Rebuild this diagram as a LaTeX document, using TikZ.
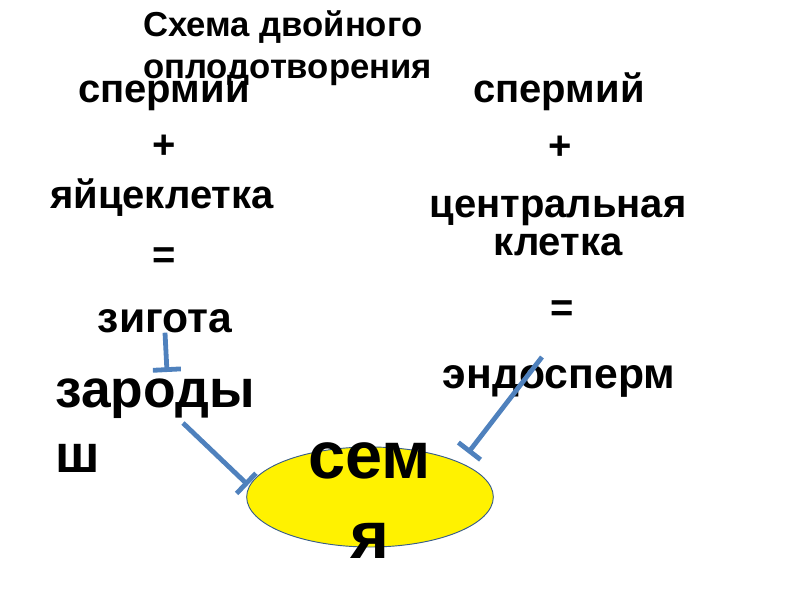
\documentclass[tikz,border=0pt]{standalone}
\usepackage{fontspec}
\setmainfont{Liberation Sans}
\usepackage{xcolor}
\usetikzlibrary{positioning,arrows.meta,shapes.geometric}

\definecolor{lineblue}{HTML}{4F81BD}
\definecolor{lineedge}{HTML}{385D8A}

\begin{document}
\begin{tikzpicture}[x=0.75pt, y=-0.75pt,
    ttl/.style={font=\fontsize{26}{31}\selectfont\bfseries, align=left,
                inner sep=0pt, anchor=base west},
    word/.style={font=\fontsize{30}{28}\selectfont\bfseries, align=center,
                 inner sep=0pt, anchor=base},
    sym/.style={font=\fontsize{30}{36}\selectfont\bfseries, inner sep=0pt},
    big/.style={font=\fontsize{40}{49}\selectfont\bfseries, align=left,
                inner sep=0pt},
    seedtxt/.style={font=\fontsize{50}{60}\selectfont\bfseries, align=center,
                    inner sep=0pt},
    seed/.style={ellipse, draw=lineedge, fill=yellow, line width=0.7pt,
                 minimum width=185pt, minimum height=75pt, inner sep=0pt},
    ar/.style={-{Bar[width=21pt]}, line width=3.6pt, draw=lineblue},
]
\useasboundingbox (0,0) rectangle (800,600);

% title (base = last line)
\node[ttl] (title) at (143,78) {Схема двойного\\оплодотворения};

% left column
\node[word] (sp1) at (164,102) {спермий};
\node[sym] (plus1) at (164,147) {+};
\node[word] (egg) at (162,208) {яйцеклетка};
\node[sym] (eq1) at (164,258) {=};
\node[word, font=\fontsize{32}{28}\selectfont\bfseries] (zigota) at (165,332) {зигота};
\node[big, anchor=north west] (embryo) at (55,378) {зароды\\ш};

% right column
\node[word] (sp2) at (559,102) {спермий};
\node[sym] (plus2) at (560,148) {+};
\node[word] (central) at (558,255) {центральная\\клетка};
\node[sym] (eq2) at (562,311) {=};
\node[word, font=\fontsize{32}{28}\selectfont\bfseries] (endo) at (559,388) {эндосперм};

% seed
\node[seed] (seed) at (370,497) {};
\node[seedtxt, anchor=north] (seedword) at (370,442) {сем\\я};

\coordinate (zend) at (167,372);
\coordinate (estart) at (183,423);
\coordinate (eend) at (248,485);
\coordinate (nstart) at (542,357);
\coordinate (nend) at (468,453);

\draw[ar] (zigota.south) -- (zend);
\draw[ar] (estart) -- (eend);
\draw[ar] (nstart) -- (nend);
\end{tikzpicture}
\end{document}
